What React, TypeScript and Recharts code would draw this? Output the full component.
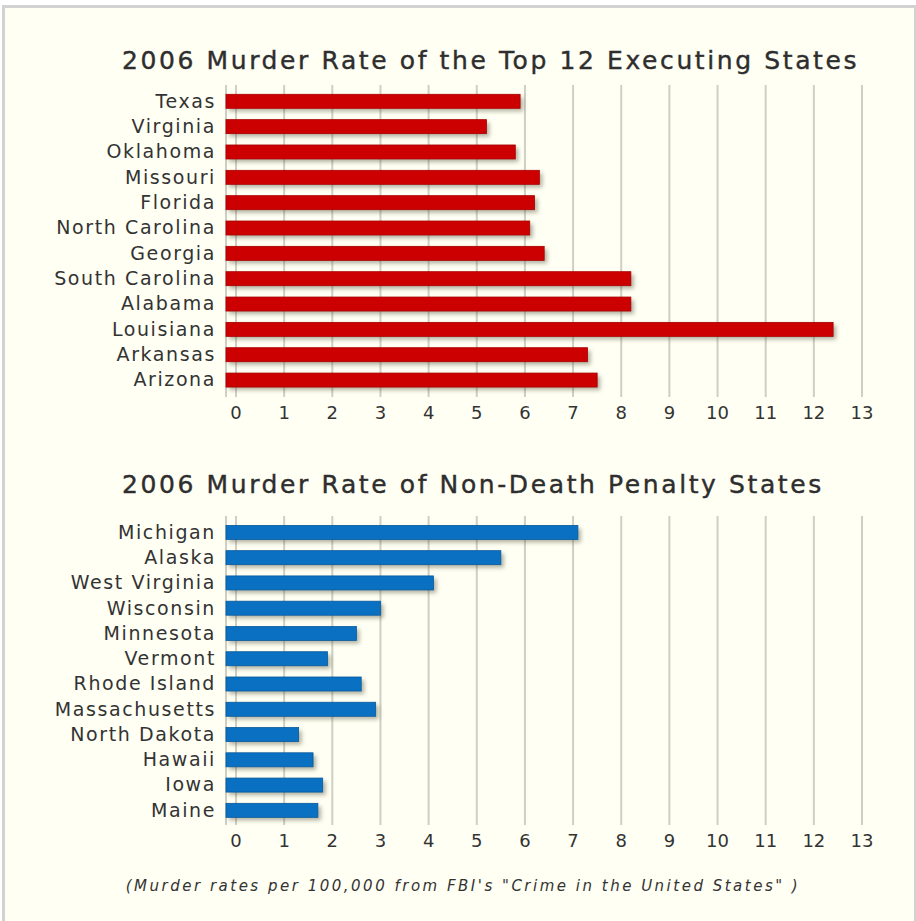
import { BarChart, Bar, XAxis, YAxis, CartesianGrid } from 'recharts';

const executingStates = ['Texas', 'Virginia', 'Oklahoma', 'Missouri', 'Florida', 'North Carolina', 'Georgia', 'South Carolina', 'Alabama', 'Louisiana', 'Arkansas', 'Arizona'];
const executingRates = [5.9, 5.2, 5.8, 6.3, 6.2, 6.1, 6.4, 8.2, 8.2, 12.4, 7.3, 7.5];

const nonDeathStates = ['Michigan', 'Alaska', 'West Virginia', 'Wisconsin', 'Minnesota', 'Vermont', 'Rhode Island', 'Massachusetts', 'North Dakota', 'Hawaii', 'Iowa', 'Maine'];
const nonDeathRates = [7.1, 5.5, 4.1, 3.0, 2.5, 1.9, 2.6, 2.9, 1.3, 1.6, 1.8, 1.7];

const rateTicks = [0, 1, 2, 3, 4, 5, 6, 7, 8, 9, 10, 11, 12, 13];

const FONT = '"DejaVu Sans", Verdana, sans-serif';
const TEXT = '#333333';
// the bars of the original start a little left of the zero gridline
const BAR_LEAD = 10;

// bar with soft drop shadow like the original flash chart
function ShadowBar(props: any) {
    const { x, y, width, height, fill, edge } = props;
    if (!width || width <= 0) return null;
    const bx = x - BAR_LEAD;
    const bw = width + BAR_LEAD;
    return (
        <g>
            <rect x={bx + 3} y={y + 3} width={bw} height={height} fill="rgba(60,60,40,0.4)" style={{ filter: 'blur(2px)' }} />
            <rect x={bx} y={y} width={bw} height={height} fill={fill} stroke={edge} strokeWidth={0.8} />
        </g>
    );
}

interface PanelProps {
    title: string;
    titleTop: number;
    top: number;
    plotHeight: number;
    padTop: number;
    padBottom: number;
    states: string[];
    rates: number[];
    color: string;
    edge: string;
}

function RatePanel({ title, titleTop, top, plotHeight, padTop, padBottom, states, rates, color, edge }: PanelProps) {
    const data = states.map((s, i) => ({ state: s, rate: rates[i] }));
    return (
        <>
            <div style={{ position: 'absolute', left: 122, top: titleTop, fontFamily: FONT, fontSize: 25, color: '#2e2e2e', letterSpacing: 2.6, whiteSpace: 'nowrap', WebkitTextStroke: '0.4px #2e2e2e' }}>
                {title}
            </div>
            <div style={{ position: 'absolute', left: 0, top }}>
                <BarChart
                    width={916}
                    height={10 + plotHeight + 40}
                    data={data}
                    layout="vertical"
                    margin={{ top: 10, right: 54, bottom: 0, left: 0 }}
                    barSize={14}
                >
                    <CartesianGrid horizontal={false} stroke="#cfcfc4" strokeWidth={2} />
                    <XAxis
                        type="number"
                        domain={[0, 13]}
                        ticks={rateTicks}
                        padding={{ left: BAR_LEAD, right: 0 }}
                        height={40}
                        axisLine={false}
                        tickLine={false}
                        tickSize={0}
                        tickMargin={9}
                        tick={{ fill: TEXT, fontSize: 18, fontFamily: FONT }}
                    />
                    <YAxis
                        type="category"
                        dataKey="state"
                        width={226}
                        axisLine={false}
                        tickLine={false}
                        tickSize={0}
                        tickMargin={10}
                        padding={{ top: padTop, bottom: padBottom }}
                        interval={0}
                        tick={{ fill: TEXT, fontSize: 19, fontFamily: FONT, letterSpacing: 1.6 }}
                    />
                    <Bar dataKey="rate" fill={color} isAnimationActive={false} shape={(p: any) => <ShadowBar {...p} fill={color} edge={edge} />} />
                </BarChart>
            </div>
        </>
    );
}

export default function App() {
    return (
        <div style={{ position: 'absolute', left: 0, top: 0, width: 916, height: 921, background: '#ffffff', overflow: 'hidden' }}>
            <div style={{ position: 'absolute', left: 2, top: 5, width: 909, height: 930, background: '#fffff3', border: '3px solid #d2d2d2' }} />
            <RatePanel
                title="2006 Murder Rate of the Top 12 Executing States"
                titleTop={46}
                top={75}
                plotHeight={312}
                padTop={3.3}
                padBottom={4.6}
                states={executingStates}
                rates={executingRates}
                color="#cc0000"
                edge="#a80000"
            />
            <RatePanel
                title="2006 Murder Rate of Non-Death Penalty States"
                titleTop={470}
                top={506}
                plotHeight={309}
                padTop={3.4}
                padBottom={2.4}
                states={nonDeathStates}
                rates={nonDeathRates}
                color="#0a70c2"
                edge="#075a9e"
            />
            <div style={{ position: 'absolute', left: 0, width: 926, top: 877, textAlign: 'center', fontFamily: FONT, fontStyle: 'italic', fontSize: 15, color: TEXT, letterSpacing: 2.5 }}>
                (Murder rates per 100,000 from FBI's "Crime in the United States" )
            </div>
        </div>
    );
}
